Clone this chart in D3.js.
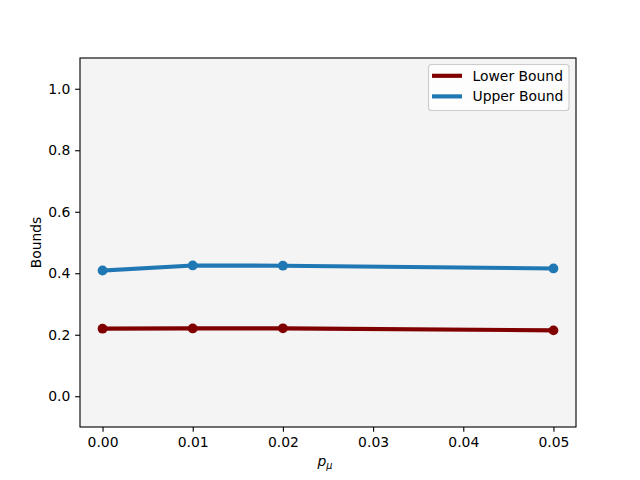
<!DOCTYPE html>
<html><head><meta charset="utf-8">
<script src="https://cdn.jsdelivr.net/npm/d3@7"></script>
<style>body{margin:0;background:#fff;} text{font-family:"DejaVu Sans",sans-serif;}</style>
</head><body>
<svg id="c" width="640" height="480"></svg>
<script>
const xValues = [0.0, 0.01, 0.02, 0.05];
const lowerBound = [0.2198, 0.2205, 0.2210, 0.2143];
const upperBound = [0.4090, 0.4253, 0.4245, 0.4156];
const seriesNames = ["Lower Bound", "Upper Bound"];
const seriesColors = ["#800000", "#1f77b4"];
const xTicks = [0.00, 0.01, 0.02, 0.03, 0.04, 0.05];
const yTicks = [0.0, 0.2, 0.4, 0.6, 0.8, 1.0];

const svg = d3.select("#c");
const L = 80, R = 576, T = 58, B = 427;
const FS = 13.9;
const x = d3.scaleLinear().domain([-0.0025, 0.0525]).range([L, R]);
const y = d3.scaleLinear().domain([-0.1, 1.1]).range([B, T]);

svg.append("rect").attr("x", L).attr("y", T).attr("width", R - L).attr("height", B - T).attr("fill", "#f4f4f4");

const xAxis = svg.append("g").attr("transform", `translate(0,${B})`)
  .call(d3.axisBottom(x).tickValues(xTicks).tickFormat(d3.format(".2f")).tickSize(4.86).tickPadding(4.86));
const yAxis = svg.append("g").attr("transform", `translate(${L},0)`)
  .call(d3.axisLeft(y).tickValues(yTicks).tickFormat(d3.format(".1f")).tickSize(4.86).tickPadding(4.86));
[xAxis, yAxis].forEach(a => {
  a.select(".domain").remove();
  a.selectAll("text").attr("font-size", FS).attr("fill", "#000").attr("font-family", "DejaVu Sans");
  a.selectAll("line").attr("stroke", "#000").attr("stroke-width", 1.11);
});

const data = [lowerBound, upperBound];
const line = d3.line().x((d, i) => x(xValues[i])).y(d => y(d));
data.forEach((s, k) => {
  svg.append("path").datum(s).attr("d", line).attr("fill", "none")
    .attr("stroke", seriesColors[k]).attr("stroke-width", 4.17).attr("stroke-linejoin", "round").attr("stroke-linecap", "square");
  svg.selectAll(null).data(s).enter().append("circle")
    .attr("cx", (d, i) => x(xValues[i])).attr("cy", d => y(d)).attr("r", 4.9).attr("fill", seriesColors[k]);
});

svg.append("rect").attr("x", L).attr("y", T).attr("width", R - L).attr("height", B - T)
  .attr("fill", "none").attr("stroke", "#000").attr("stroke-width", 1.11);

svg.append("text").attr("x", (L + R) / 2 - 3).attr("y", 466).attr("text-anchor", "middle").attr("font-size", FS)
  .attr("font-style", "italic").attr("font-family", "DejaVu Sans").html('p<tspan font-size="9.7" dy="3">μ</tspan>');
svg.append("text").attr("transform", `translate(40.5,${(T + B) / 2}) rotate(-90)`).attr("text-anchor", "middle")
  .attr("font-size", FS).text("Bounds");

const lg = svg.append("g");
lg.append("rect").attr("x", 428.5).attr("y", 64.5).attr("width", 140.5).attr("height", 46).attr("rx", 3)
  .attr("fill", "#fff").attr("fill-opacity", 0.8).attr("stroke", "#cccccc").attr("stroke-width", 1.11);
seriesNames.forEach((n, k) => {
  const yy = 75.8 + k * 20.6;
  lg.append("line").attr("x1", 432).attr("x2", 462).attr("y1", yy).attr("y2", yy)
    .attr("stroke", seriesColors[k]).attr("stroke-width", 4.17);
  lg.append("text").attr("x", 472.5).attr("y", yy + 5).attr("font-size", FS).text(n);
});
</script>
</body></html>
